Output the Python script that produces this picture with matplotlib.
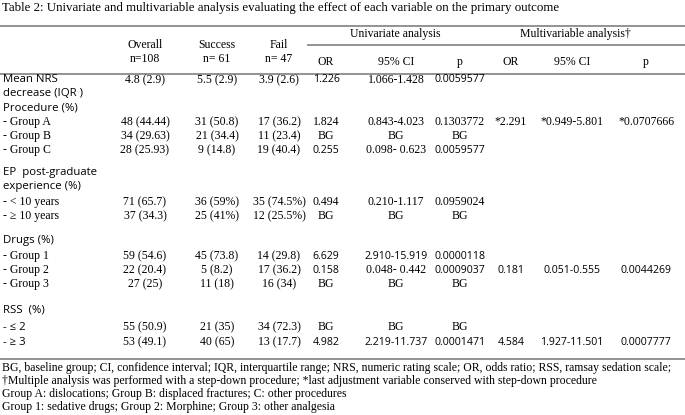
import matplotlib
matplotlib.use("Agg")
import matplotlib.pyplot as plt

title = "Table 2: Univariate and multivariable analysis evaluating the effect of each variable on the primary outcome"

col_headers = ["Overall\nn=108", "Success\nn= 61", "Fail\nn= 47"]
sub_headers = ["OR", "95% CI", "p", "OR", "95% CI", "p"]
group_headers = ["Univariate analysis", "Multivariable analysis\u2020"]

row_labels = ["Mean NRS", "decrease (IQR )", "Procedure (%)", "- Group A", "- Group B", "- Group C",
              "EP  post-graduate", "experience (%)", "- < 10 years", "- \u2265 10 years",
              "Drugs (%)", "- Group 1", "- Group 2", "- Group 3",
              "RSS  (%)", "- \u2264 2", "- \u2265 3"]
overall = ["4.8 (2.9)", "", "", "48 (44.44)", "34 (29.63)", "28 (25.93)", "", "", "71 (65.7)", "37 (34.3)",
           "", "59 (54.6)", "22 (20.4)", "27 (25)", "", "55 (50.9)", "53 (49.1)"]
success = ["5.5 (2.9)", "", "", "31 (50.8)", "21 (34.4)", "9 (14.8)", "", "", "36 (59%)", "25 (41%)",
           "", "45 (73.8)", "5 (8.2)", "11 (18)", "", "21 (35)", "40 (65)"]
fail = ["3.9 (2.6)", "", "", "17 (36.2)", "11 (23.4)", "19 (40.4)", "", "", "35 (74.5%)", "12 (25.5%)",
        "", "14 (29.8)", "17 (36.2)", "16 (34)", "", "34 (72.3)", "13 (17.7)"]
uni_or = ["1.226", "", "", "1.824", "BG", "0.255", "", "", "0.494", "BG",
          "", "6.629", "0.158", "BG", "", "BG", "4.982"]
uni_ci = ["1.066-1.428", "", "", "0.843-4.023", "BG", "0.098- 0.623", "", "", "0.210-1.117", "BG",
          "", "2.910-15.919", "0.048- 0.442", "BG", "", "BG", "2.219-11.737"]
uni_p = ["0.0059577", "", "", "0.1303772", "BG", "0.0059577", "", "", "0.0959024", "BG",
         "", "0.0000118", "0.0009037", "BG", "", "BG", "0.0001471"]
multi_or = ["", "", "", "*2.291", "", "", "", "", "", "", "", "", "0.181", "", "", "", "4.584"]
multi_ci = ["", "", "", "*0.949-5.801", "", "", "", "", "", "", "", "", "0.051-0.555", "", "", "", "1.927-11.501"]
multi_p = ["", "", "", "*0.0707666", "", "", "", "", "", "", "", "", "0.0044269", "", "", "", "0.0007777"]

footnotes = [
    "BG, baseline group; CI, confidence interval; IQR, interquartile range; NRS, numeric rating scale; OR, odds ratio; RSS, ramsay sedation scale;",
    "\u2020Multiple analysis was performed with a step-down procedure; *last adjustment variable conserved with step-down procedure",
    "Group A: dislocations; Group B: displaced fractures; C: other procedures",
    "Group 1: sedative drugs; Group 2: Morphine; Group 3: other analgesia",
]

# ---- layout ----
W, H = 685, 415
row_y = [80, 94, 108, 122, 136, 150, 172, 186, 202, 216, 240, 256, 270, 284, 310, 327, 342]
col_x = [145, 217, 279, 326, 396, 460, 511, 572, 646]
SERIF = ["Liberation Serif", "DejaVu Serif"]
SANS = ["Open Sans", "DejaVu Sans"]
fs = 8.5
fs_title = 9.3
fs_sans = 7.6
fs_sans_lab = 8.2

sans_cells = {(0, 3), (0, 5), (5, 3), (5, 5), (11, 3), (11, 4), (11, 5),
              (12, 3), (12, 5), (12, 6), (12, 7), (12, 8),
              (16, 3), (16, 4), (16, 5), (16, 6), (16, 7), (16, 8)}
sans_labels = {0, 1, 2, 6, 7, 10, 14, 15, 16}

fig = plt.figure(figsize=(W / 100, H / 100), dpi=100)
ax = fig.add_axes([0, 0, 1, 1])
ax.set_xlim(0, W)
ax.set_ylim(H, 0)
ax.axis("off")

ax.text(2, 8, title, family=SERIF, fontsize=fs_title, va="center", ha="left")

line_kw = dict(color="#8a8a8a", lw=1.3)
ax.plot([0, W], [26, 26], **line_kw)
ax.plot([308, W], [45, 45], **line_kw)
ax.plot([0, W], [74, 74], **line_kw)
ax.plot([0, W], [359, 359], **line_kw)

for x, h in zip(col_x[:3], col_headers):
    ax.text(x, 52, h, family=SERIF, fontsize=fs, ha="center", va="center", linespacing=1.25)
for x, h in zip(col_x[3:], sub_headers):
    ax.text(x, 62, h, family=SERIF, fontsize=fs, ha="center", va="center")
ax.text(395, 34, group_headers[0], family=SERIF, fontsize=fs, ha="center", va="center")
ax.text(575, 34, group_headers[1], family=SERIF, fontsize=fs, ha="center", va="center")

cols = [overall, success, fail, uni_or, uni_ci, uni_p, multi_or, multi_ci, multi_p]
for i, y in enumerate(row_y):
    lab = row_labels[i]
    if i in sans_labels:
        ax.text(3, y, lab, family=SANS, fontsize=fs_sans_lab, ha="left", va="center")
    else:
        ax.text(3, y, lab, family=SERIF, fontsize=fs, ha="left", va="center")
    for j, col in enumerate(cols):
        v = col[i]
        if not v:
            continue
        if (i, j) in sans_cells:
            ax.text(col_x[j], y, v, family=SANS, fontsize=fs_sans, ha="center", va="center")
        else:
            ax.text(col_x[j], y, v, family=SERIF, fontsize=fs, ha="center", va="center")

for k, f in enumerate(footnotes):
    ax.text(2, 368 + 13 * k, f, family=SERIF, fontsize=fs, ha="left", va="center")

fig.savefig("out.png", dpi=100)
